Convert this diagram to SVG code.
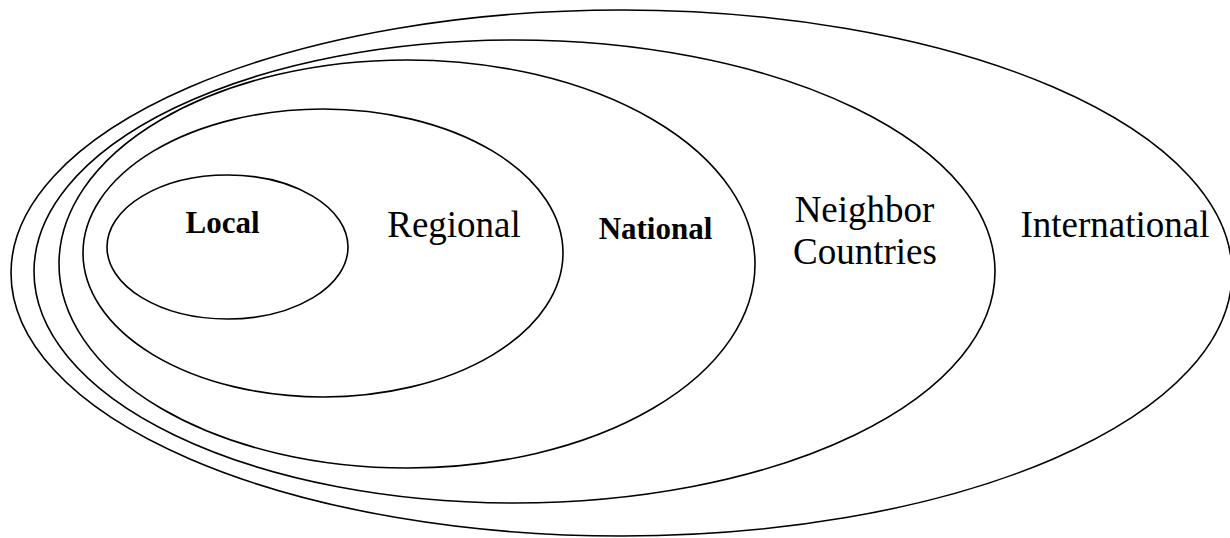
<svg xmlns="http://www.w3.org/2000/svg" width="1230" height="538" viewBox="0 0 1230 538">
<style>
.ring{fill:none;stroke:#000;stroke-width:1.6}
.lbl{font-family:"Liberation Serif","Times New Roman",serif;fill:#000;text-anchor:middle}
.reg{font-size:37px}
.bold{font-size:31px;font-weight:bold}
</style>
<rect width="1230" height="538" fill="#fff"/>
<g id="international">
<ellipse class="ring" cx="621.5" cy="273" rx="610.5" ry="263"/>
<text class="lbl reg" x="1115" y="237">International</text>
</g>
<g id="neighbor">
<ellipse class="ring" cx="514.5" cy="271.5" rx="480.5" ry="231.5"/>
<text class="lbl reg" x="864.5" y="222">Neighbor</text>
<text class="lbl reg" x="865" y="264">Countries</text>
</g>
<g id="national">
<ellipse class="ring" cx="407" cy="264" rx="348" ry="204"/>
<text class="lbl bold" x="655.5" y="239">National</text>
</g>
<g id="regional">
<ellipse class="ring" cx="323" cy="253" rx="240" ry="144"/>
<text class="lbl reg" x="454" y="237">Regional</text>
</g>
<g id="local">
<ellipse class="ring" cx="227.5" cy="247" rx="120.5" ry="72"/>
<text class="lbl bold" x="222.5" y="233">Local</text>
</g>
<g id="connectors"></g>
</svg>
